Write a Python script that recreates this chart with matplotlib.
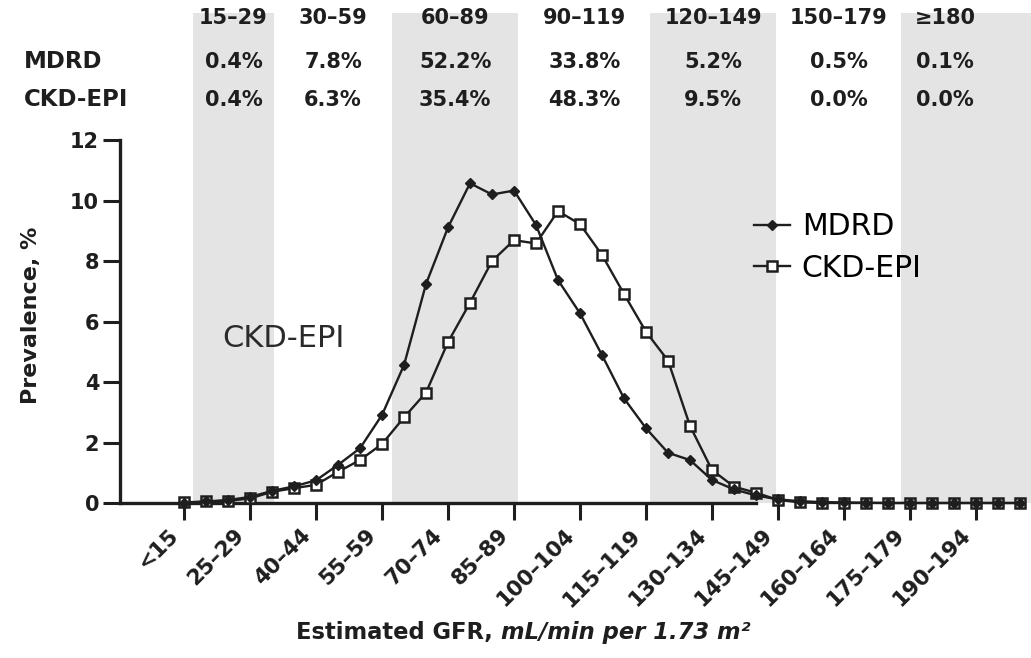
import numpy as np
import matplotlib
matplotlib.use("Agg")
import matplotlib.pyplot as plt
from matplotlib.transforms import ScaledTranslation

# GFR bins, 5 mL/min wide
bins = ["<15"] + ["%d\u2013%d" % (g, g + 4) for g in range(15, 205, 5)]
tick_every = 3

mdrd = [0.0, 0.05, 0.1, 0.2, 0.4, 0.55, 0.75, 1.26, 1.81, 2.91,
        4.56, 7.24, 9.11, 10.57, 10.2, 10.33, 9.19, 7.37, 6.27, 4.89,
        3.46, 2.47, 1.66, 1.42, 0.76, 0.45, 0.25, 0.12, 0.06, 0.03,
        0.02, 0.01, 0.0, 0.0, 0.0, 0.0, 0.0, 0.0, 0.0]
ckd_epi = [0.02, 0.05, 0.07, 0.15, 0.37, 0.49, 0.6, 1.03, 1.42, 1.95,
           2.83, 3.65, 5.32, 6.62, 8.0, 8.69, 8.58, 9.65, 9.22, 8.2,
           6.91, 5.66, 4.71, 2.55, 1.09, 0.54, 0.34, 0.1, 0.02, 0.0,
           0.0, 0.0, 0.0, 0.0, 0.0, 0.0, 0.0, 0.0, 0.0]

# summary table on top
groups = ["15\u201329", "30\u201359", "60\u201389", "90\u2013119", "120\u2013149", "150\u2013179", "\u2265180"]
mdrd_pct = ["0.4%", "7.8%", "52.2%", "33.8%", "5.2%", "0.5%", "0.1%"]
ckd_pct = ["0.4%", "6.3%", "35.4%", "48.3%", "9.5%", "0.0%", "0.0%"]

plt.rcParams['font.family'] = ['DejaVu Sans']
ink = "#1e1e1e"

fig = plt.figure(figsize=(10.31, 6.58), dpi=100)
ax = fig.add_axes([120 / 1031, 155 / 658, 911 / 1031, 503 / 658])
x = np.arange(len(bins))
ax.set_xlim(-2.91, 38.5)
ax.set_ylim(0, 16.63)

# column edges (in bin units) for the shaded groups
edges = [0.4, 4.1, 9.45, 15.2, 21.2, 26.9, 32.6, 36.6]
for i in range(0, len(edges) - 1, 2):
    right = edges[i + 1] if i + 1 < len(edges) - 1 else 40
    ax.axvspan(edges[i], right, ymax=0.975, color="#e4e4e4", lw=0, zorder=0)
centers = [(edges[i] + edges[i + 1]) / 2 for i in range(len(groups))]

hdr = dict(ha="center", va="center", fontsize=15, fontweight="bold", color=ink)
for c, g, m, k in zip(centers, groups, mdrd_pct, ckd_pct):
    ax.text(c, 16.02, g, **hdr)
    ax.text(c, 14.58, m, **hdr)
    ax.text(c, 13.32, k, **hdr)
fig.text(24 / 1031, 1 - 62 / 658, "MDRD", ha="left", va="center", fontsize=16.5, fontweight="bold", color=ink)
fig.text(24 / 1031, 1 - 100 / 658, "CKD-EPI", ha="left", va="center", fontsize=16.5, fontweight="bold", color=ink)

# curves
ax.plot(x, mdrd, color=ink, lw=1.7, marker="D", ms=5, mfc=ink, mec=ink,
        label="MDRD", clip_on=False, zorder=4)
ax.plot(x, ckd_epi, color=ink, lw=1.7, marker="s", ms=7.5, mfc="white", mec=ink, mew=1.8,
        label="CKD-EPI", clip_on=False, zorder=3)

ax.text(1.73, 5.45, "CKD-EPI", ha="left", va="center", fontsize=22, color="#2a2a2a")

ax.legend(loc="upper left", bbox_to_anchor=(754 / 1031, 1 - 212 / 658), bbox_transform=fig.transFigure,
          frameon=False, fontsize=21.5, handlelength=1.2, handletextpad=0.4, labelspacing=0.42,
          borderpad=0, borderaxespad=0)

# axes styling
for s in ["top", "right"]:
    ax.spines[s].set_visible(False)
ax.spines["left"].set_bounds(0, 12)
ax.spines["bottom"].set_bounds(-2.91, 26)
for s in ["left", "bottom"]:
    ax.spines[s].set_linewidth(2.4)
    ax.spines[s].set_color(ink)

ax.set_yticks(range(0, 13, 2))
ax.set_yticklabels([str(v) for v in range(0, 13, 2)], fontsize=15, fontweight="bold", color=ink)
ax.tick_params(axis="y", length=12, width=2.2, color=ink, pad=3)

ax.set_xticks(x[::tick_every])
ax.set_xticklabels(bins[::tick_every], rotation=45, ha="right", va="center", rotation_mode="anchor",
                   fontsize=15.5, fontweight="bold", color=ink)
ax.tick_params(axis="x", length=12, width=2.2, color=ink, pad=9)
shift = ScaledTranslation(-9 / 100, 0, fig.dpi_scale_trans)
for lab in ax.get_xticklabels():
    lab.set_transform(lab.get_transform() + shift)

fig.text(31 / 1031, 1 - 315 / 658, "Prevalence, %", rotation=90, ha="center", va="center",
         fontsize=16, fontweight="bold", color=ink)
t1 = fig.text(296 / 1031, 1 - 632 / 658, "Estimated GFR, ", ha="left", va="center",
              fontsize=16.3, fontweight="bold", color=ink)
ax.annotate("mL/min per 1.73 m\u00b2", xy=(1, 0), xycoords=t1, ha="left", va="bottom",
            fontsize=16.3, fontweight="bold", style="italic", color=ink, annotation_clip=False)

fig.savefig("out.png", dpi=100)
